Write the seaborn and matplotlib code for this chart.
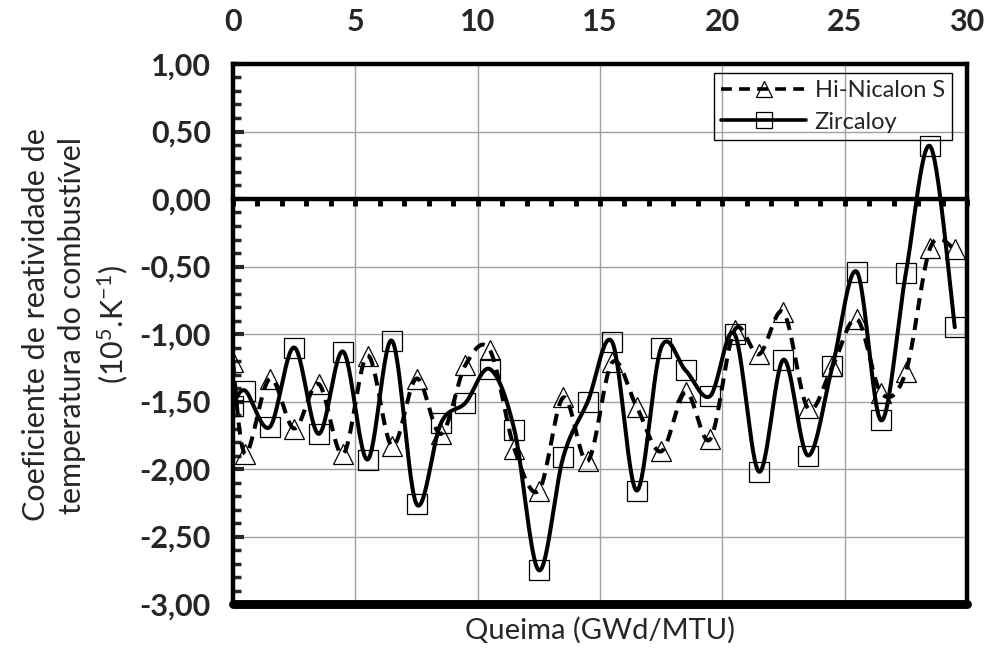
import numpy as np
import pandas as pd
import matplotlib
matplotlib.use("Agg")
import matplotlib.pyplot as plt
from matplotlib.lines import Line2D
import seaborn as sns

# ---- data ----
burnup = [0, 0.5, 1.5, 2.5, 3.5, 4.5, 5.5, 6.5, 7.5, 8.5, 9.5, 10.5, 11.5, 12.5,
          13.5, 14.5, 15.5, 16.5, 17.5, 18.5, 19.5, 20.5, 21.5, 22.5, 23.5, 24.5,
          25.5, 26.5, 27.5, 28.5, 29.5]
hi_nicalon = [-1.21, -1.89, -1.33, -1.70, -1.37, -1.89, -1.16, -1.83, -1.33, -1.74,
              -1.23, -1.12, -1.85, -2.16, -1.47, -1.94, -1.21, -1.54, -1.87, -1.43,
              -1.78, -0.97, -1.15, -0.84, -1.55, -1.24, -0.89, -1.44, -1.28, -0.36,
              -0.37]
zircaloy = [-1.53, -1.42, -1.69, -1.10, -1.74, -1.13, -1.93, -1.05, -2.26, -1.66,
            -1.51, -1.26, -1.71, -2.75, -1.91, -1.50, -1.06, -2.16, -1.10, -1.27,
            -1.46, -1.00, -2.02, -1.19, -1.90, -1.24, -0.54, -1.64, -0.55, 0.39,
            -0.95]
series_names = ["Hi-Nicalon S", "Zircaloy"]
x_ticks = [0, 5, 10, 15, 20, 25, 30]
y_ticks = [1.0, 0.5, 0.0, -0.5, -1.0, -1.5, -2.0, -2.5, -3.0]
y_tick_labels = ["1,00", "0,50", "0,00", "-0,50", "-1,00", "-1,50", "-2,00", "-2,50", "-3,00"]

sns.set_style("white")
plt.rcParams["font.family"] = ["Lato", "DejaVu Sans"]
plt.rcParams["mathtext.fontset"] = "custom"
plt.rcParams["mathtext.rm"] = "Lato"
plt.rcParams["mathtext.it"] = "Lato"


def smooth(x, y, n=30):
    """Excel-like smoothed line (Catmull-Rom Bezier through the data points)."""
    P = np.column_stack([x, y]).astype(float)
    E = np.vstack([P[0], P, P[-1]])
    t = np.linspace(0, 1, n)[:, None]
    segs = []
    for i in range(len(P) - 1):
        p0, p1, p2, p3 = E[i], E[i + 1], E[i + 2], E[i + 3]
        c1 = p1 + (p2 - p0) / 6.0
        c2 = p2 - (p3 - p1) / 6.0
        B = (1 - t) ** 3 * p1 + 3 * (1 - t) ** 2 * t * c1 + 3 * (1 - t) * t ** 2 * c2 + t ** 3 * p2
        segs.append(B if i == 0 else B[1:])
    S = np.vstack(segs)
    return S[:, 0], S[:, 1]


fig = plt.figure(figsize=(9.89, 6.48), dpi=100)
AX_L, AX_R, AX_T, AX_B = 233, 967, 64, 604
ax = fig.add_axes([AX_L / 989, 1 - AX_B / 648, (AX_R - AX_L) / 989, (AX_B - AX_T) / 648])

LW = 2.9
MS = 14

# smoothed lines
sx, sy = smooth(burnup, hi_nicalon)
sns.lineplot(x=sx, y=sy, sort=False, estimator=None, ax=ax, color="black", lw=LW, zorder=4)
ax.lines[-1].set_dashes((3, 2))
sx2, sy2 = smooth(burnup, zircaloy)
sns.lineplot(x=sx2, y=sy2, sort=False, estimator=None, ax=ax, color="black", lw=LW, zorder=4)

# markers
ax.plot(burnup, hi_nicalon, ls="none", marker="^", ms=MS, mfc="none", mec="black", mew=0.9, zorder=5)
ax.plot(burnup, zircaloy, ls="none", marker="s", ms=MS, mfc="none", mec="black", mew=0.9, zorder=5)

ax.set_xlim(0, 30)
ax.set_ylim(-3, 1)

# grid
ax.set_xticks(x_ticks)
ax.set_yticks(y_ticks)
ax.set_yticklabels(y_tick_labels)
ax.grid(True, color="#a0a0a0", lw=1.0, zorder=0)
ax.set_axisbelow(True)

# x axis line at y = 0, labels on top
ax.spines["bottom"].set_position(("data", 0))
ax.set_xticks(np.arange(0, 31, 1), minor=True)
ax.xaxis.set_ticks_position("bottom")
ax.tick_params(axis="x", which="both", direction="out", length=5, width=3.5, color="black",
               bottom=True, top=False, labelbottom=False, labeltop=True, pad=15,
               labelsize=22)
ax.set_xticklabels([str(v) for v in x_ticks], fontweight="bold")

# y axis
ax.set_yticks(np.arange(-3, 1.001, 0.1), minor=True)
ax.tick_params(axis="y", which="major", direction="in", length=8, width=3, left=True,
               labelsize=22, pad=16)
ax.tick_params(axis="y", which="minor", direction="in", length=6, width=2.5, left=True)
for lab in ax.get_yticklabels():
    lab.set_fontweight("bold")

for s in ["left", "right", "top", "bottom"]:
    ax.spines[s].set_visible(True)
    ax.spines[s].set_color("black")
    ax.spines[s].set_linewidth(3.2)
ax.spines["bottom"].set_zorder(6)
# bottom border of the plot frame
ax.axhline(-3, color="black", lw=6.4, zorder=6, clip_on=False)

# legend
handles = [
    Line2D([], [], color="black", lw=2.6, dashes=(3, 2), marker="^", ms=12, mfc="none",
           mec="black", mew=0.9),
    Line2D([], [], color="black", lw=2.6, marker="s", ms=12, mfc="none", mec="black", mew=0.9),
]
leg = ax.legend(handles, series_names, loc="upper right",
                bbox_to_anchor=((952 - AX_L) / (AX_R - AX_L), 1 - (73 - AX_T) / (AX_B - AX_T)),
                borderaxespad=0, frameon=True, fancybox=False, edgecolor="black",
                facecolor="none", framealpha=1, fontsize=17, handlelength=3.6,
                handletextpad=0.35, labelspacing=0.45, borderpad=0.3, numpoints=1)
leg.get_frame().set_linewidth(1.0)

# axis titles
fig.text(76 / 989, 1 - 325 / 648,
         "Coeficiente de reatividade de\ntemperatura do combustível\n(10$^{5}$.K$^{-1}$)",
         rotation=90, ha="center", va="center", multialignment="center", fontsize=22,
         linespacing=1.35)
fig.text(600 / 989, 1 - 630 / 648, "Queima (GWd/MTU)", ha="center", va="center", fontsize=21)

fig.savefig("out.png", dpi=100)
